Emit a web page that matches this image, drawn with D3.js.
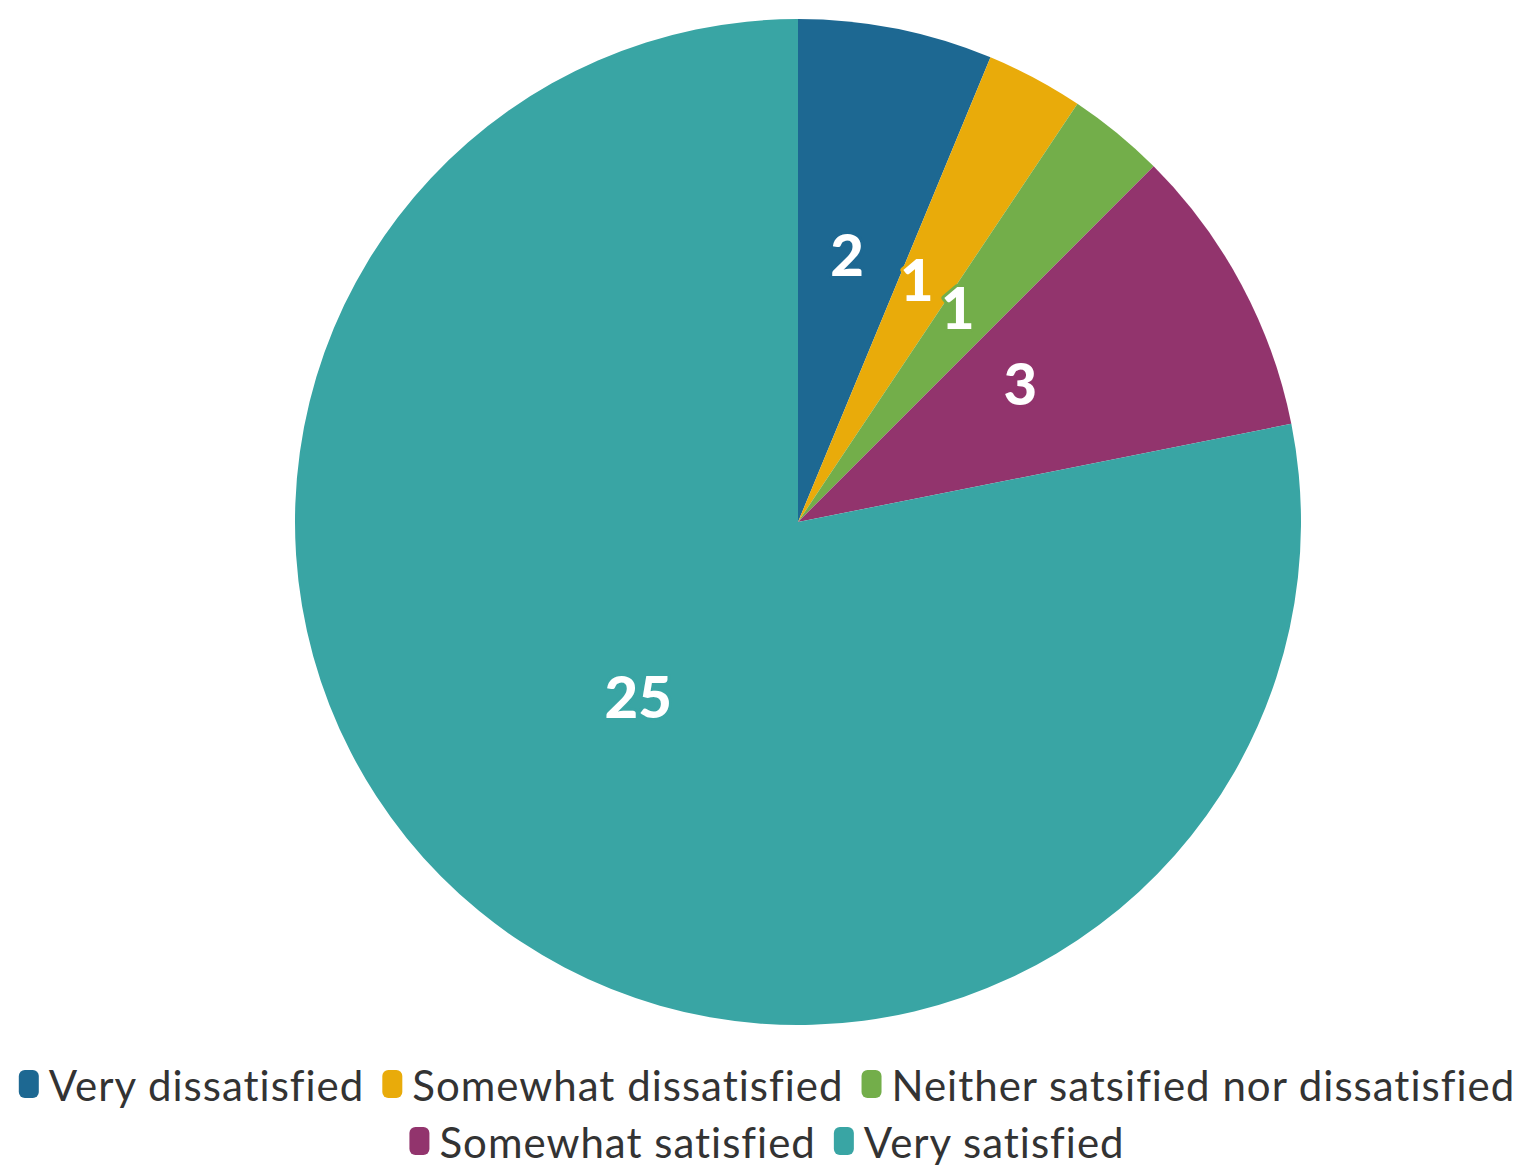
<!DOCTYPE html>
<html>
<head>
<meta charset="utf-8">
<script src="https://cdn.jsdelivr.net/npm/d3@7"></script>
<style>
  html, body { margin: 0; padding: 0; background: #ffffff; }
  svg { display: block; }
</style>
</head>
<body>
<svg id="chart" width="1527" height="1168"></svg>
<script>
// Survey responses: satisfaction levels and counts
const categories = [
  "Very dissatisfied",
  "Somewhat dissatisfied",
  "Neither satsified nor dissatisfied",
  "Somewhat satisfied",
  "Very satisfied"
];
const counts = [2, 1, 1, 3, 25];
const colors = ["#1d6892", "#e9ab0a", "#73ae4a", "#92346d", "#39a5a4"];

const width = 1527, height = 1168;
const cx = 798, cy = 522, radius = 503;
const fontFamily = "Lato, 'Open Sans', sans-serif";

const data = categories.map((name, i) => ({ name, value: counts[i], color: colors[i] }));

const svg = d3.select("#chart");

const pie = d3.pie().value(d => d.value).sort(null);
const arcs = pie(data);

const arc = d3.arc().innerRadius(0).outerRadius(radius);
// centroid of this arc sits at half its outer radius
const labelArc = d3.arc().innerRadius(0).outerRadius(504);
const labelLift = -21;

const g = svg.append("g").attr("transform", `translate(${cx},${cy})`);

g.selectAll("path.slice")
  .data(arcs)
  .join("path")
  .attr("class", "slice")
  .attr("d", arc)
  .attr("fill", d => d.data.color);

// Value labels with an outline in the slice colour
g.selectAll("text.value")
  .data(arcs)
  .join("text")
  .attr("class", "value")
  .attr("transform", d => {
    const [x, y] = labelArc.centroid(d);
    return `translate(${x},${y + labelLift})`;
  })
  .attr("text-anchor", "middle")
  .attr("dominant-baseline", "central")
  .attr("font-family", fontFamily)
  .attr("font-weight", 900)
  .attr("font-size", 58)
  .attr("fill", "#ffffff")
  .attr("stroke", d => d.data.color)
  .attr("stroke-width", 6)
  .attr("stroke-linejoin", "round")
  .attr("paint-order", "stroke")
  .text(d => d.data.value);

// Legend: flow layout, centred rows
const legendFont = 42;
const markerW = 20, markerH = 28, markerGap = 10, itemGap = 18;
const maxRowWidth = 1510;
const rowBaselines = [1101, 1158];

const legend = svg.append("g").attr("class", "legend");
const items = legend.selectAll("g.item")
  .data(data)
  .join("g")
  .attr("class", "item");

items.append("text")
  .attr("font-family", fontFamily)
  .attr("font-size", legendFont)
  .attr("letter-spacing", 1)
  .attr("fill", "#333333")
  .attr("x", markerW + markerGap)
  .text(d => d.name);

items.append("rect")
  .attr("width", markerW)
  .attr("height", markerH)
  .attr("rx", 6)
  .attr("y", -markerH - 3)
  .attr("fill", d => d.color);

const widths = [];
items.each(function() {
  const tw = d3.select(this).select("text").node().getComputedTextLength();
  widths.push(markerW + markerGap + tw);
});

const rows = [[]];
let rowW = 0;
widths.forEach((w, i) => {
  const add = rows[rows.length - 1].length ? itemGap + w : w;
  if (rowW + add > maxRowWidth && rows[rows.length - 1].length) {
    rows.push([i]);
    rowW = w;
  } else {
    rows[rows.length - 1].push(i);
    rowW += add;
  }
});

rows.forEach((row, r) => {
  const total = d3.sum(row, i => widths[i]) + itemGap * (row.length - 1);
  let x = 767 - total / 2;
  row.forEach(i => {
    d3.select(items.nodes()[i]).attr("transform", `translate(${x},${rowBaselines[r]})`);
    x += widths[i] + itemGap;
  });
});
</script>
</body>
</html>
